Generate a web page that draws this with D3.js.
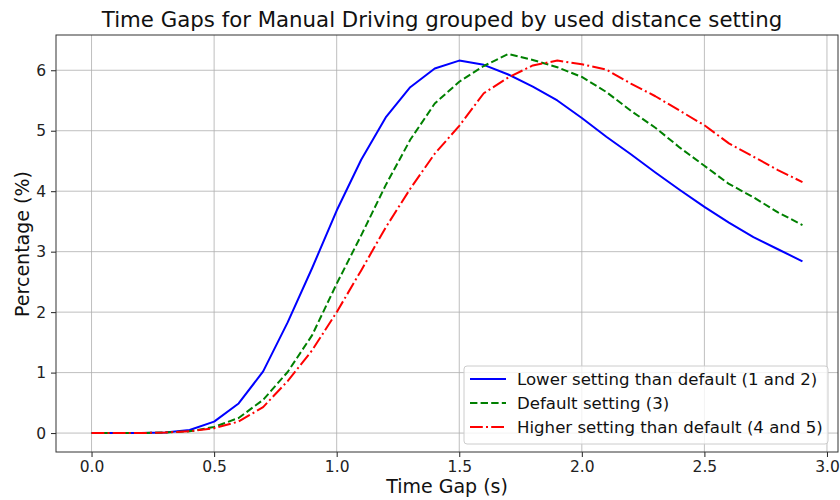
<!DOCTYPE html>
<html>
<head>
<meta charset="utf-8">
<script src="https://cdn.jsdelivr.net/npm/d3@7"></script>
<style>
  html, body { margin: 0; padding: 0; background: #fff; }
  svg { display: block; font-family: "DejaVu Sans", sans-serif; }
</style>
</head>
<body>
<svg id="chart" width="840" height="500"></svg>
<script>
// Time gap bins (s)
const timeGaps = [0.0,0.1,0.2,0.3,0.4,0.5,0.6,0.7,0.8,0.9,1.0,1.1,1.2,1.3,1.4,1.5,1.6,1.7,1.8,1.9,2.0,2.1,2.2,2.3,2.4,2.5,2.6,2.7,2.8,2.9];

// Percentage of time spent in each bin, per distance-setting group
const lowerSetting   = [0,0,0,0.01,0.05,0.19,0.49,1.02,1.83,2.73,3.68,4.52,5.22,5.72,6.03,6.16,6.09,5.93,5.73,5.50,5.21,4.90,4.61,4.31,4.02,3.74,3.48,3.24,3.04,2.84];
const defaultSetting = [0,0,0,0.01,0.03,0.10,0.25,0.55,1.01,1.62,2.47,3.27,4.10,4.85,5.45,5.81,6.07,6.27,6.17,6.05,5.89,5.64,5.33,5.05,4.72,4.42,4.12,3.90,3.65,3.44];
const higherSetting  = [0,0,0,0.01,0.03,0.08,0.19,0.43,0.86,1.37,2.00,2.69,3.40,4.04,4.62,5.08,5.62,5.88,6.08,6.16,6.10,6.01,5.78,5.57,5.33,5.09,4.79,4.57,4.35,4.15];

const seriesNames = ["Lower setting than default (1 and 2)", "Default setting (3)", "Higher setting than default (4 and 5)"];
const xTicks = [0.0, 0.5, 1.0, 1.5, 2.0, 2.5, 3.0];
const yTicks = [0, 1, 2, 3, 4, 5, 6];

const series = [
  { name: seriesNames[0], values: lowerSetting,   color: "#0000ff", dash: null },
  { name: seriesNames[1], values: defaultSetting, color: "#008000", dash: "7.4,3.2" },
  { name: seriesNames[2], values: higherSetting,  color: "#ff0000", dash: "12.8,3.2,2,3.2" }
];

const svg = d3.select("#chart");
const plotL = 56, plotR = 838, plotT = 35, plotB = 452;

const x = d3.scaleLinear().domain([-0.145, 3.045]).range([plotL, plotR]);
const y = d3.scaleLinear().domain([-0.313, 6.583]).range([plotB, plotT]);

// grid
const grid = svg.append("g");
grid.selectAll("line.gx").data(xTicks).join("line")
  .attr("x1", d => x(d)).attr("x2", d => x(d))
  .attr("y1", plotT).attr("y2", plotB)
  .attr("stroke", "#b0b0b0").attr("stroke-width", 1).attr("opacity", 0.8);
grid.selectAll("line.gy").data(yTicks).join("line")
  .attr("x1", plotL).attr("x2", plotR)
  .attr("y1", d => y(d)).attr("y2", d => y(d))
  .attr("stroke", "#b0b0b0").attr("stroke-width", 1).attr("opacity", 0.8);

// series lines
const line = d3.line().x((d, i) => x(timeGaps[i])).y(d => y(d));
series.forEach(s => {
  svg.append("path")
    .datum(s.values)
    .attr("d", line)
    .attr("fill", "none")
    .attr("stroke", s.color)
    .attr("stroke-width", 2)
    .attr("stroke-dasharray", s.dash)
    .attr("stroke-linejoin", "round");
});

// axes
const xAxis = d3.axisBottom(x).tickValues(xTicks).tickFormat(d3.format(".1f")).tickSize(5).tickPadding(4);
const yAxis = d3.axisLeft(y).tickValues(yTicks).tickFormat(d3.format("d")).tickSize(5).tickPadding(5);

const gx = svg.append("g").attr("transform", `translate(0,${plotB})`).call(xAxis);
const gy = svg.append("g").attr("transform", `translate(${plotL},0)`).call(yAxis);
[gx, gy].forEach(g => {
  g.select(".domain").remove();
  g.selectAll(".tick line").attr("stroke", "#222");
  g.selectAll(".tick text").attr("font-family", "DejaVu Sans").attr("font-size", 15.5).attr("fill", "#222");
});

// frame
svg.append("rect")
  .attr("x", plotL).attr("y", plotT)
  .attr("width", plotR - plotL).attr("height", plotB - plotT)
  .attr("fill", "none").attr("stroke", "#333").attr("stroke-width", 1);

function label(txt, cx, cy, size, anchor, rotate) {
  svg.append("text")
    .attr("transform", `translate(${cx},${cy})${rotate ? ` rotate(${rotate})` : ""}`)
    .attr("text-anchor", anchor)
    .attr("font-size", size)
    .attr("fill", "#111")
    .text(txt);
}

label("Time Gaps for Manual Driving grouped by used distance setting", 442, 27, 21.3, "middle");
label("Time Gap (s)", 447, 493, 19, "middle");
label("Percentage (%)", 29, 244, 19, "middle", -90);

// legend
const lg = svg.append("g").attr("transform", "translate(464,366)");
lg.append("rect")
  .attr("width", 364).attr("height", 78).attr("rx", 3)
  .attr("fill", "#fff").attr("fill-opacity", 0.8)
  .attr("stroke", "#ccc").attr("stroke-width", 1);
series.forEach((s, i) => {
  const yy = 13 + i * 24;
  lg.append("line")
    .attr("x1", 6).attr("x2", 42).attr("y1", yy).attr("y2", yy)
    .attr("stroke", s.color).attr("stroke-width", 2)
    .attr("stroke-dasharray", s.dash);
  lg.append("text")
    .attr("x", 53).attr("y", yy + 6)
    .attr("font-size", 16.6).attr("fill", "#111")
    .text(s.name);
});
</script>
</body>
</html>
